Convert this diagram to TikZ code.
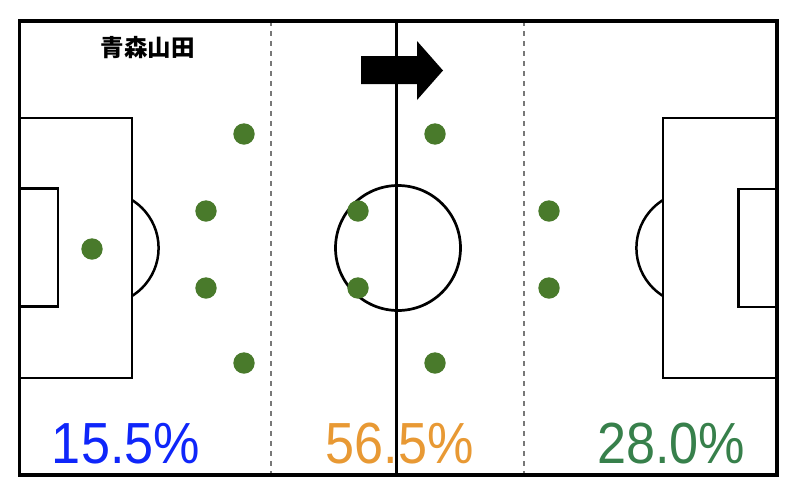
\documentclass[tikz,border=0pt]{standalone}
\usepackage{fontspec}
\setmainfont{Liberation Sans}
\newfontfamily\cjkfont{Noto Sans CJK JP}
\definecolor{pblue}{RGB}{15,38,250}
\definecolor{porange}{RGB}{232,153,52}
\definecolor{pgreen}{RGB}{55,128,75}
\definecolor{dotgreen}{RGB}{73,122,43}
\definecolor{dashgray}{RGB}{120,120,120}
\begin{document}
\begin{tikzpicture}[x=1pt,y=-1pt,
  fieldline/.style={draw=black,line width=2.8pt},
  outerline/.style={draw=black,line width=3.4pt},
  zoneline/.style={draw=dashgray,line width=2.4pt,dash pattern=on 5pt off 5pt},
  player/.style={circle,fill=dotgreen,draw=none,minimum size=21.4pt,inner sep=0pt},
  pct/.style={anchor=base,inner sep=0pt,font=\fontsize{58}{60}\selectfont},
  title/.style={inner sep=0pt,font=\cjkfont\bfseries\fontsize{23.5}{26}\selectfont}]
\useasboundingbox[fill=white] (0,0) rectangle (798,498);
% percentages (drawn first, lines over them)
\node[pct,text=pblue] (p15) at (126,463.5) {\scalebox{0.9}[1]{15.5\%}};
\node[pct,text=porange] (p56) at (399.5,463.5) {\scalebox{0.9}[1]{56.5\%}};
\node[pct,text=pgreen] (p28) at (671.3,463.5) {\scalebox{0.9}[1]{28.0\%}};
% zone lines
\draw[zoneline] (271,21) -- (271,475);
\draw[zoneline] (524,21) -- (524,475);
% left penalty area
\draw[fieldline] (19.5,118) -- (132,118) -- (132,378) -- (19.5,378);
\draw[fieldline] (19.5,188.5) -- (58,188.5) -- (58,306.5) -- (19.5,306.5);
\begin{scope}
\clip (132,0) rectangle (220,498);
\draw[line width=2.5pt] (102,248) circle (56.6pt);
\end{scope}
% right penalty area
\draw[fieldline] (777,118) -- (663,118) -- (663,378) -- (777,378);
\draw[fieldline] (777,189) -- (738.5,189) -- (738.5,307) -- (777,307);
\begin{scope}
\clip (580,0) rectangle (663,498);
\draw[line width=2.5pt] (693,248) circle (56.6pt);
\end{scope}
% centre
\draw[line width=2.7pt] (398,248) circle (62.5pt);
\draw[line width=3pt] (396,21) -- (396,475);
% outer boundary
\draw[outerline] (19.5,21) rectangle (777,475);
% direction arrow
\fill[black] (361,56) -- (417,56) -- (417,41) -- (443,70.5) -- (417,100) -- (417,84) -- (361,84) -- cycle;
% title
\node[title] (team) at (147.5,47.5) {青森山田};
% players
\node[player] (gk) at (92,249) {};
\node[player] (d1) at (244,134) {};
\node[player] (d2) at (206,211) {};
\node[player] (d3) at (206,288) {};
\node[player] (d4) at (244,363) {};
\node[player] (m1) at (358,211) {};
\node[player] (m2) at (358,288) {};
\node[player] (m3) at (435,134) {};
\node[player] (m4) at (435,363) {};
\node[player] (f1) at (549,211) {};
\node[player] (f2) at (549,288) {};
\end{tikzpicture}
\end{document}
